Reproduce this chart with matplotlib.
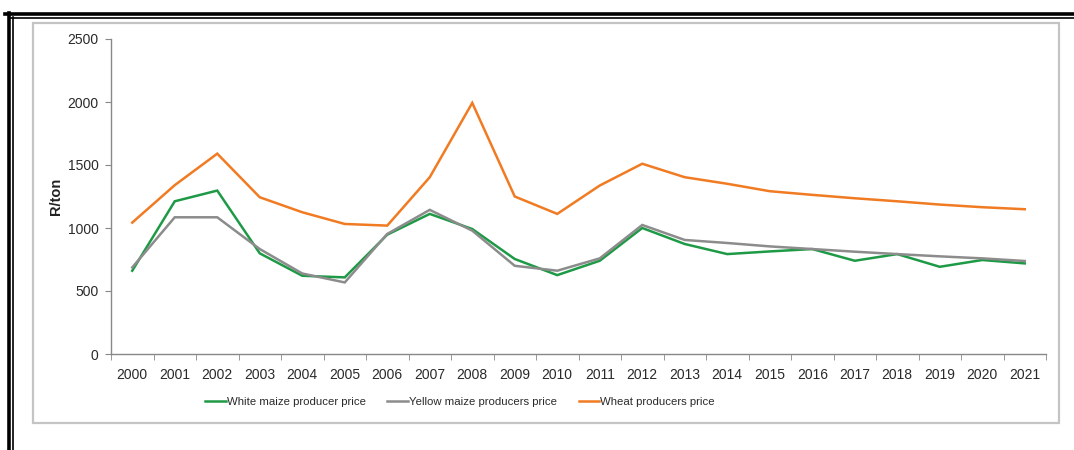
import matplotlib
matplotlib.use("Agg")
import matplotlib.pyplot as plt
from matplotlib.lines import Line2D
from matplotlib.patches import Rectangle

years = [str(y) for y in range(2000, 2022)]
white_maize = [661, 1212, 1297, 799, 621, 608, 947, 1112, 992, 754, 626, 740,
               1000, 873, 793, 814, 833, 740, 793, 692, 746, 719]
yellow_maize = [687, 1085, 1085, 833, 639, 568, 953, 1144, 979, 700, 661, 759,
                1024, 905, 881, 854, 833, 812, 793, 775, 759, 738]
wheat = [1043, 1340, 1590, 1244, 1125, 1032, 1019, 1403, 1993, 1250, 1112, 1337,
         1510, 1403, 1351, 1292, 1263, 1236, 1212, 1186, 1165, 1149]
labels = ["White maize producer price", "Yellow maize producers price", "Wheat producers price"]
colors = ["#1E9A47", "#8C8C8C", "#F07B22"]

plt.rcParams['font.family'] = ['Liberation Sans', 'DejaVu Sans']
W, H = 1074, 450
fig = plt.figure(figsize=(W / 100, H / 100), dpi=100)

def fx(x):
    return x / W

def fy(y):
    return 1 - y / H

# outer decorative frame
fig.add_artist(Line2D([fx(5), fx(1074)], [fy(14), fy(14)], color='black', lw=2.6, transform=fig.transFigure))
fig.add_artist(Line2D([fx(9), fx(1074)], [fy(17.5), fy(17.5)], color='black', lw=1.2, transform=fig.transFigure))
fig.add_artist(Line2D([fx(9), fx(9)], [fy(12.5), fy(450)], color='black', lw=2.6, transform=fig.transFigure))
fig.add_artist(Line2D([fx(13), fx(13)], [fy(16.5), fy(450)], color='black', lw=1.2, transform=fig.transFigure))
# chart area frame
fig.add_artist(Rectangle((fx(33), fy(423)), fx(1059) - fx(33), fy(23) - fy(423),
                         fill=False, edgecolor='#C4C4C4', lw=1.6, transform=fig.transFigure))

ax = fig.add_axes([fx(111), fy(354), fx(1046) - fx(111), fy(39) - fy(354)])
x = list(range(len(years)))
for series, lab, col in zip([white_maize, yellow_maize, wheat], labels, colors):
    ax.plot(x, series, color=col, lw=1.8, label=lab, solid_joinstyle='miter')

ax.set_xlim(-0.5, len(years) - 0.5)
ax.set_ylim(0, 2500)
ax.set_yticks([0, 500, 1000, 1500, 2000, 2500])
ax.set_xticks(x)
ax.set_xticklabels(years)
ax.set_xticks([i - 0.5 for i in range(len(years) + 1)], minor=True)
ax.tick_params(axis='x', which='major', length=0, pad=10, labelsize=10, labelcolor='#2A2A2A')
ax.tick_params(axis='x', which='minor', length=4, color='#888888', direction='out')
ax.tick_params(axis='y', length=4, color='#888888', labelsize=10, labelcolor='#2A2A2A', pad=5)
for s in ['top', 'right']:
    ax.spines[s].set_visible(False)
for s in ['left', 'bottom']:
    ax.spines[s].set_color('#888888')
    ax.spines[s].set_linewidth(1.0)
ax.set_ylabel('R/ton', fontsize=10.5, fontweight='bold', color='#222222', labelpad=3)

leg = fig.legend(loc='center', bbox_to_anchor=(fx(460), fy(402)), ncol=3, frameon=False,
                 fontsize=8.2, handlelength=1.8, handletextpad=0.1, columnspacing=1.9)
for t in leg.get_texts():
    t.set_color('#2A2A2A')

fig.savefig('out.png', dpi=100)
